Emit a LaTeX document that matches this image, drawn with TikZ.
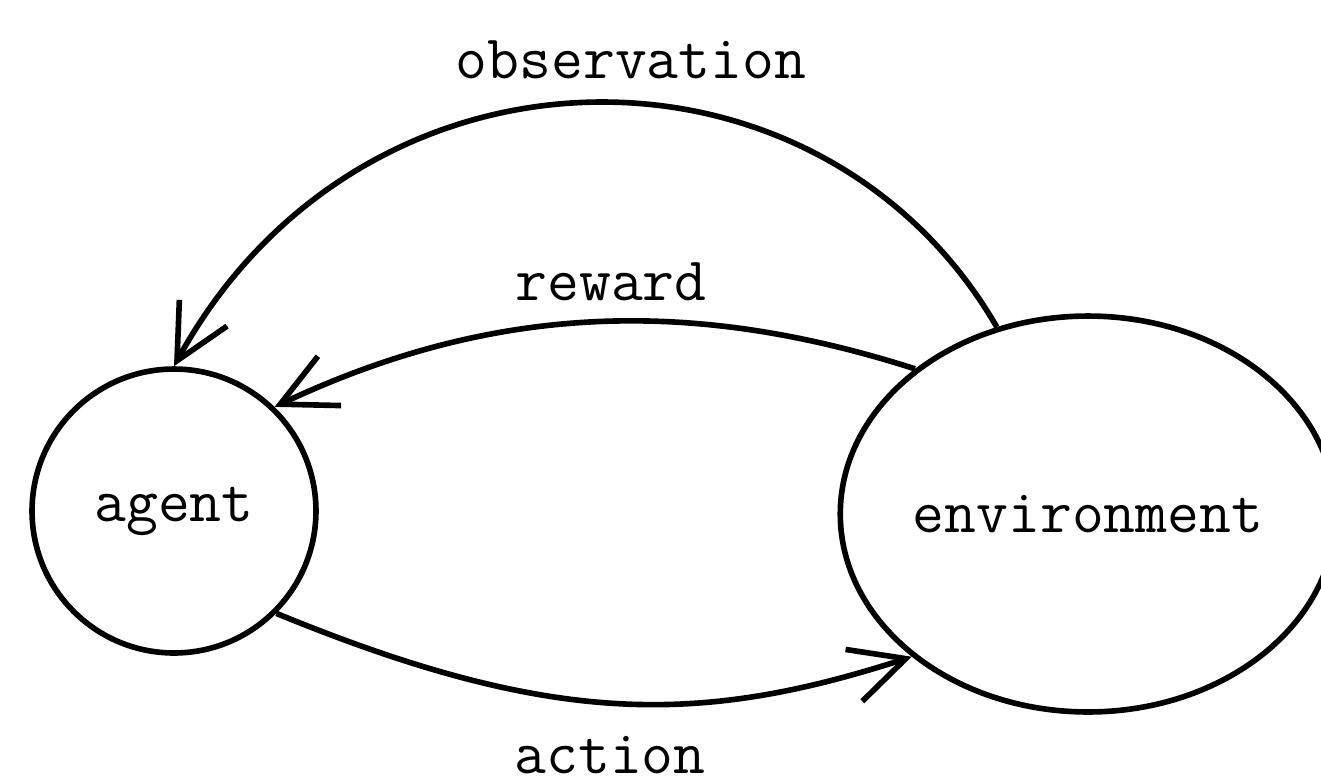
\documentclass[tikz,border=0pt]{standalone}
\usepackage{fontspec}
\usetikzlibrary{arrows.meta,shapes.geometric}
\tikzset{
  thick line/.style={line width=3.2pt},
  txt/.style={font=\ttfamily\fontsize{35.2}{40}\selectfont},
  statebox/.style={thick line, draw, txt, inner sep=0pt},
  conn/.style={thick line, -{Straight Barb[length=1.09cm,width=1.09cm]}},
  lbl/.style={txt, inner sep=0pt, anchor=base}
}
\begin{document}
\begin{tikzpicture}[x=0.02cm,y=-0.02cm]
\useasboundingbox (0,0) rectangle (1321,782);
\clip (0,0) rectangle (1321,782);
\node[statebox, circle, minimum size=5.68cm] (agent) at (174,511) {agent};
\node[statebox, ellipse, minimum width=9.56cm, minimum height=7.92cm] (env) at (1088,514) {environment};
\draw[conn] (env.116.4) .. controls (820,22) and (363,22) .. (agent.90);
\draw[conn] (env.140.6) .. controls (700,300) and (501,300) .. (agent.46);
\draw[conn] (agent.-45) .. controls (553,727) and (700,725) .. (env.219.7);
\node[lbl] (lobs) at (631,78) {observation};
\node[lbl] (lrew) at (611,300) {reward};
\node[lbl] (lact) at (610,773) {action};
\end{tikzpicture}
\end{document}
